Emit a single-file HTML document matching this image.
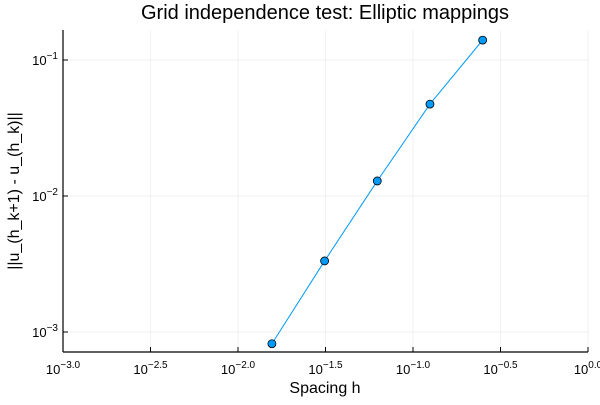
<!DOCTYPE html>
<html><head><meta charset="utf-8"><style>
body{margin:0;background:#fff;}
svg{font-family:"Liberation Sans","DejaVu Sans",sans-serif;}
</style></head><body>
<svg id="chart" width="600" height="400" xmlns="http://www.w3.org/2000/svg">
<text x="325" y="19" font-size="20" text-anchor="middle" fill="#000">Grid independence test: Elliptic mappings</text>
<text x="325" y="393" font-size="16" text-anchor="middle">Spacing h</text>
<text transform="translate(19,191) rotate(-90)" font-size="16" text-anchor="middle">||u_(h_k+1) - u_(h_k)||</text>
<g id="grid"></g><g id="axes"></g><g id="marks"></g>
</svg>
<script>
const xTicks=[-3.0,-2.5,-2.0,-1.5,-1.0,-0.5,0.0];
const xTickLabels=["-3.0","-2.5","-2.0","-1.5","-1.0","-0.5","0.0"];
const yTicks=[-3,-2,-1];
const yTickLabels=["-3","-2","-1"];
const hValues=[0.015625,0.03125,0.0625,0.125,0.25];
const errValues=[8.2e-4,3.33e-3,0.0129,0.0474,0.140];
const L=63,R=588,T=8,B=352;
const xs=l=>L+(l+3)*175;
const ys=l=>332-(l+3)*136;
const NS="http://www.w3.org/2000/svg";
function mk(p,t,a){const e=document.createElementNS(NS,t);for(const k in a)e.setAttribute(k,a[k]);p.appendChild(e);return e;}
const g=document.getElementById('grid'),ax=document.getElementById('axes'),mg=document.getElementById('marks');
xTicks.forEach((t,i)=>{const x=xs(t);
const gl=mk(g,'line',{x1:x,x2:x,y1:30,y2:B,stroke:'#000','stroke-opacity':0.1,'stroke-width':0.5});

const tk=mk(ax,'line',{x1:x,x2:x,y1:B,y2:B-5,stroke:'#000'});

const tx=mk(ax,'text',{x:x,y:374,'font-size':13,'text-anchor':'middle'});

tx.innerHTML='10<tspan dy="-6" font-size="10">'+xTickLabels[i].replace('-','\u2212')+'</tspan>';});
yTicks.forEach((t,i)=>{const y=ys(t);
const gl=mk(g,'line',{x1:L,x2:R,y1:y,y2:y,stroke:'#000','stroke-opacity':0.1,'stroke-width':0.5});

const tk=mk(ax,'line',{x1:L,x2:L+5,y1:y,y2:y,stroke:'#000'});

const tx=mk(ax,'text',{x:L-5,y:y+5,'font-size':13,'text-anchor':'end'});

tx.innerHTML='10<tspan dy="-6" font-size="10">'+yTickLabels[i].replace('-','\u2212')+'</tspan>';});
const xa=mk(ax,'line',{x1:L,x2:R,y1:B,y2:B,stroke:'#000','stroke-width':1.2});

const ya=mk(ax,'line',{x1:L,x2:L,y1:30,y2:B,stroke:'#000','stroke-width':1.2});

const pts=hValues.map((h,i)=>[xs(Math.log10(h)),ys(Math.log10(errValues[i]))]);
const ln=mk(mg,'polyline',{points:pts.map(p=>p.join(',')).join(' '),fill:'none',stroke:'#009af9','stroke-width':1});

pts.forEach(p=>{const c=mk(mg,'circle',{cx:p[0],cy:p[1],r:4,fill:'#009af9',stroke:'#000','stroke-width':0.8});
});
</script>
</body></html>
